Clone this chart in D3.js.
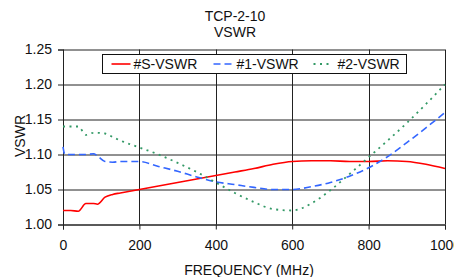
<!DOCTYPE html>
<html>
<head>
<meta charset="utf-8">
<script src="https://cdn.jsdelivr.net/npm/d3@7"></script>
<style>
  body { margin: 0; background: #fff; }
  svg { display: block; font-family: Arial, "Liberation Sans", sans-serif; }
</style>
</head>
<body>
<svg id="chart" width="454" height="277"></svg>
<script>
// ----------------------------
// Data
// ----------------------------
const freq = [0, 5, 20, 40, 60, 80, 90, 110, 130, 150, 200, 250, 300, 350, 400, 450,
              500, 550, 600, 650, 700, 750, 800, 850, 900, 950, 1000];
const vswrS = [1.020, 1.020, 1.020, 1.019, 1.030, 1.030, 1.029, 1.039, 1.043, 1.045, 1.050,
               1.055, 1.060, 1.065, 1.070, 1.075, 1.080, 1.086, 1.090, 1.091, 1.091, 1.090,
               1.090, 1.091, 1.090, 1.086, 1.080];
const vswr1 = [1.111, 1.100, 1.100, 1.100, 1.100, 1.101, 1.098, 1.090, 1.089, 1.090, 1.090,
               1.083, 1.076, 1.068, 1.061, 1.057, 1.053, 1.050, 1.050, 1.054, 1.060, 1.069,
               1.081, 1.097, 1.117, 1.138, 1.160];
const vswr2 = [1.140, 1.140, 1.140, 1.140, 1.128, 1.131, 1.131, 1.130, 1.125, 1.120, 1.110,
               1.100, 1.088, 1.075, 1.060, 1.045, 1.032, 1.022, 1.020, 1.030, 1.049, 1.072,
               1.096, 1.120, 1.145, 1.172, 1.200];
const seriesNames = ["#S-VSWR", "#1-VSWR", "#2-VSWR"];
const xTicks = [0, 200, 400, 600, 800, 1000];
const yTicks = [1.00, 1.05, 1.10, 1.15, 1.20, 1.25];

const series = [
  { name: seriesNames[0], values: vswrS, color: "#ff0000", dash: null, width: 1.6 },
  { name: seriesNames[1], values: vswr1, color: "#3366ff", dash: "7,4", width: 1.6 },
  { name: seriesNames[2], values: vswr2, color: "#339966", dash: "2,4.5", width: 1.8 }
];

// ----------------------------
// Plotting
// ----------------------------
const FS = 14;
const svg = d3.select("#chart");
const margin = { top: 49.5, right: 9, bottom: 52.5, left: 63 };
const width = +svg.attr("width");
const height = +svg.attr("height");
const innerW = width - margin.left - margin.right;
const innerH = height - margin.top - margin.bottom;

const xScale = d3.scaleLinear().domain([0, 1000]).range([0, innerW]);
const yScale = d3.scaleLinear().domain([1.00, 1.25]).range([innerH, 0]);

const g = svg.append("g").attr("transform", `translate(${margin.left},${margin.top})`);

// grid
g.append("g")
  .selectAll("line")
  .data(yTicks)
  .join("line")
    .attr("x1", 0).attr("x2", innerW)
    .attr("y1", d => Math.round(yScale(d)) + 0.5)
    .attr("y2", d => Math.round(yScale(d)) + 0.5)
    .attr("stroke", "#222").attr("stroke-width", 1);
g.append("g")
  .selectAll("line")
  .data(xTicks)
  .join("line")
    .attr("x1", d => Math.round(xScale(d)) + 0.5)
    .attr("x2", d => Math.round(xScale(d)) + 0.5)
    .attr("y1", 0).attr("y2", innerH)
    .attr("stroke", "#222").attr("stroke-width", 1);

// axes
const xAxis = g.append("g")
  .attr("transform", `translate(0,${innerH})`)
  .call(d3.axisBottom(xScale).tickValues(xTicks).tickSize(5).tickPadding(11).tickFormat(d3.format("d")));
const yAxis = g.append("g")
  .call(d3.axisLeft(yScale).tickValues(yTicks).tickSize(5).tickPadding(6).tickFormat(d3.format(".2f")));
[xAxis, yAxis].forEach(a => {
  a.select(".domain").attr("stroke", "#222");
  a.selectAll(".tick line").attr("stroke", "#222");
  a.selectAll("text").attr("font-size", FS).attr("fill", "#111")
    .attr("font-family", "Arial, 'Liberation Sans', sans-serif");
});

// lines
const line = d3.line()
  .x((d, i) => xScale(freq[i]))
  .y(d => yScale(d))
  .curve(d3.curveMonotoneX);

series.forEach(s => {
  g.append("path")
    .datum(s.values)
    .attr("fill", "none")
    .attr("stroke", s.color)
    .attr("stroke-width", s.width)
    .attr("stroke-dasharray", s.dash)
    .attr("d", line);
});

// legend
const legend = svg.append("g").attr("transform", "translate(102.5,54.5)");
legend.append("rect")
  .attr("width", 304).attr("height", 19)
  .attr("fill", "#fff").attr("stroke", "#111").attr("stroke-width", 1);
const sampleX = [9, 111, 211];
const labelX = [31, 134, 235];
series.forEach((s, i) => {
  legend.append("line")
    .attr("x1", sampleX[i]).attr("x2", sampleX[i] + 19)
    .attr("y1", 9.5).attr("y2", 9.5)
    .attr("stroke", s.color).attr("stroke-width", s.width)
    .attr("stroke-dasharray", s.dash);
  legend.append("text")
    .attr("x", labelX[i]).attr("y", 14.8)
    .attr("font-size", FS).attr("fill", "#111")
    .text(s.name);
});

// titles
svg.append("text")
  .attr("x", 235).attr("y", 21)
  .attr("text-anchor", "middle").attr("font-size", FS).attr("fill", "#111")
  .text("TCP-2-10");
svg.append("text")
  .attr("x", 235).attr("y", 37)
  .attr("text-anchor", "middle").attr("font-size", FS).attr("fill", "#111")
  .text("VSWR");
svg.append("text")
  .attr("x", 249).attr("y", 274.5)
  .attr("text-anchor", "middle").attr("font-size", FS).attr("fill", "#111")
  .text("FREQUENCY (MHz)");
svg.append("text")
  .attr("transform", "translate(25,136) rotate(-90)")
  .attr("text-anchor", "middle").attr("font-size", FS).attr("fill", "#111")
  .text("VSWR");
</script>
</body>
</html>
